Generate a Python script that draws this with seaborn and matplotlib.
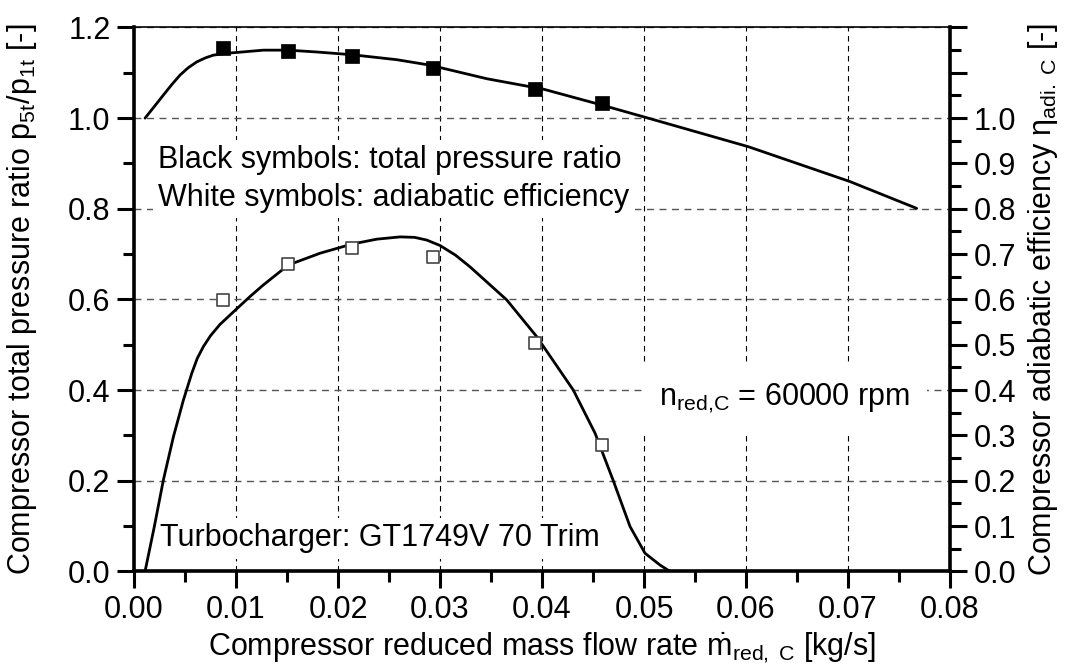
import matplotlib
matplotlib.use("Agg")
import matplotlib.pyplot as plt
import seaborn as sns
import pandas as pd
from matplotlib.ticker import MultipleLocator, FixedLocator, FuncFormatter

# ---- data ----
mass_flow_pts = [0.00876, 0.01513, 0.02134, 0.02934, 0.03931, 0.04585]
pressure_ratio_pts = [1.155, 1.149, 1.138, 1.111, 1.064, 1.033]
efficiency_pts = [0.599, 0.678, 0.714, 0.693, 0.503, 0.279]

pr_curve_x = [0.00108, 0.00200, 0.00288, 0.00370, 0.00451, 0.00530, 0.00614, 0.00700,
              0.00778, 0.0090, 0.0101, 0.01268, 0.0151, 0.0179, 0.02134, 0.02575,
              0.0290, 0.03458, 0.04013, 0.04585, 0.05026, 0.06023, 0.0702, 0.07673]
pr_curve_y = [1.000, 1.026, 1.051, 1.074, 1.095, 1.111, 1.124, 1.133,
              1.139, 1.143, 1.145, 1.150, 1.150, 1.146, 1.140, 1.129,
              1.117, 1.087, 1.064, 1.029, 1.001, 0.937, 0.860, 0.801]

eff_curve_x = [0.00108, 0.00200, 0.00288, 0.00386, 0.00484, 0.00566, 0.00620, 0.00680,
               0.00750, 0.00843, 0.0101, 0.01140, 0.01268, 0.01513, 0.01824, 0.02134,
               0.0238, 0.02608, 0.0275, 0.0287, 0.0300, 0.0315, 0.03294, 0.03654,
               0.03948, 0.04307, 0.0452, 0.04699, 0.04863, 0.0501, 0.05157, 0.05255,
               0.0600]
eff_curve_y = [0.000, 0.100, 0.202, 0.297, 0.378, 0.437, 0.470, 0.496,
               0.520, 0.545, 0.580, 0.607, 0.632, 0.676, 0.702, 0.722,
               0.733, 0.738, 0.737, 0.731, 0.719, 0.698, 0.672, 0.599,
               0.518, 0.400, 0.305, 0.200, 0.099, 0.040, 0.014, 0.000,
               0.000]

x_ticks = [0.00, 0.01, 0.02, 0.03, 0.04, 0.05, 0.06, 0.07, 0.08]
left_ticks = [0.0, 0.2, 0.4, 0.6, 0.8, 1.0, 1.2]
right_ticks = [0.0, 0.1, 0.2, 0.3, 0.4, 0.5, 0.6, 0.7, 0.8, 0.9, 1.0, 1.1, 1.2]

# ---- style ----
sns.set_style("ticks")
plt.rcParams["font.family"] = ["Liberation Sans", "DejaVu Sans"]
plt.rcParams["mathtext.fontset"] = "custom"
plt.rcParams["mathtext.rm"] = "Liberation Sans"
plt.rcParams["mathtext.it"] = "Liberation Sans"
plt.rcParams["mathtext.bf"] = "Liberation Sans:bold"
for k in ["text.color", "axes.labelcolor", "xtick.color", "ytick.color", "axes.edgecolor"]:
    plt.rcParams[k] = "black"
FS = 22

fig = plt.figure(figsize=(10.68, 6.69), dpi=100)
ax = fig.add_axes([0.1255, 0.1459, 0.764, 0.813])
ax.set_xlim(0, 0.08)
ax.set_ylim(0, 1.2)

pr_df = pd.DataFrame({"x": pr_curve_x, "y": pr_curve_y})
eff_df = pd.DataFrame({"x": eff_curve_x, "y": eff_curve_y})
pts_df = pd.DataFrame({"x": mass_flow_pts, "pr": pressure_ratio_pts, "eff": efficiency_pts})

sns.lineplot(data=pr_df, x="x", y="y", ax=ax, sort=False, estimator=None,
             color="black", lw=2, zorder=3)
sns.lineplot(data=eff_df, x="x", y="y", ax=ax, sort=False, estimator=None,
             color="black", lw=2, zorder=3)
sns.scatterplot(data=pts_df, x="x", y="pr", ax=ax, marker="s", s=92,
                color="black", edgecolor="black", linewidth=0.5, zorder=4)
sns.scatterplot(data=pts_df, x="x", y="eff", ax=ax, marker="s", s=78,
                color="white", edgecolor="#444444", linewidth=1.2, zorder=4)

# grid
ax.set_axisbelow(True)
ax.xaxis.grid(True, color="black", lw=0.8, ls=(0, (5, 4)))
ax.yaxis.grid(True, color="#555555", lw=1.0, ls=(0, (5, 4)))

# ticks
ax.xaxis.set_major_locator(FixedLocator(x_ticks))
ax.xaxis.set_minor_locator(MultipleLocator(0.005))
ax.yaxis.set_major_locator(FixedLocator(left_ticks))
ax.yaxis.set_minor_locator(MultipleLocator(0.1))
ax.xaxis.set_major_formatter(FuncFormatter(lambda v, p: f"{v:.2f}"))
ax.yaxis.set_major_formatter(FuncFormatter(lambda v, p: f"{v:.1f}"))
ax.tick_params(which="major", direction="out", length=12, width=2.2,
               labelsize=FS, pad=5, color="black", labelcolor="black")
ax.tick_params(which="minor", direction="out", length=8, width=2.2, color="black")
ax.tick_params(axis="y", which="both", right=False)
ax.tick_params(axis="x", which="both", top=False)

for s in ["left", "bottom"]:
    ax.spines[s].set_linewidth(2.6)
    ax.spines[s].set_color("black")
ax.spines["top"].set_linewidth(1.2)
ax.spines["top"].set_color("black")
ax.spines["right"].set_visible(False)

ax.set_xlabel(r"Compressor reduced mass flow rate $\dot{m}_{\mathrm{red,\ C}}$ [kg/s]",
              fontsize=FS, labelpad=4, color="black")
ax.set_ylabel(r"Compressor total pressure ratio p$_{5t}$/p$_{1t}$ [-]",
              fontsize=FS, labelpad=21, color="black")

# right axis
ax2 = ax.twinx()
ax2.set_ylim(0, 1.2)
ax2.yaxis.set_major_locator(FixedLocator(right_ticks))
ax2.yaxis.set_minor_locator(MultipleLocator(0.05))
ax2.yaxis.set_major_formatter(FuncFormatter(lambda v, p: f"{v:.1f}" if v <= 1.0001 else ""))
ax2.tick_params(which="major", direction="out", length=12, width=2.2,
                labelsize=FS, pad=5, color="black", labelcolor="black")
ax2.tick_params(which="minor", direction="out", length=8, width=2.2, color="black")
for s in ["left", "bottom", "top"]:
    ax2.spines[s].set_visible(False)
ax2.spines["right"].set_linewidth(2.6)
ax2.spines["right"].set_color("black")
ax2.set_ylabel(r"Compressor adiabatic efficiency $\eta_{\mathrm{adi.\ C}}$ [-]",
               fontsize=FS, labelpad=7, color="black")

# annotations
box = dict(facecolor="white", edgecolor="none", pad=4)
ax.text(0.00235, 0.866, "Black symbols: total pressure ratio\nWhite symbols: adiabatic efficiency",
        fontsize=FS, va="center", ha="left", bbox=box, zorder=2.5, linespacing=1.32,
        color="black")
ax.text(0.0638, 0.382, r"n$_{\mathrm{red{,}C}}$ = 60000 rpm", fontsize=FS,
        va="center", ha="center", bbox=dict(facecolor="white", edgecolor="none", pad=12),
        zorder=2.5, color="black")
ax.text(0.00255, 0.073, "Turbocharger: GT1749V 70 Trim", fontsize=FS,
        va="center", ha="left", bbox=box, zorder=2.5, color="black")

fig.savefig("out.png", dpi=100)
